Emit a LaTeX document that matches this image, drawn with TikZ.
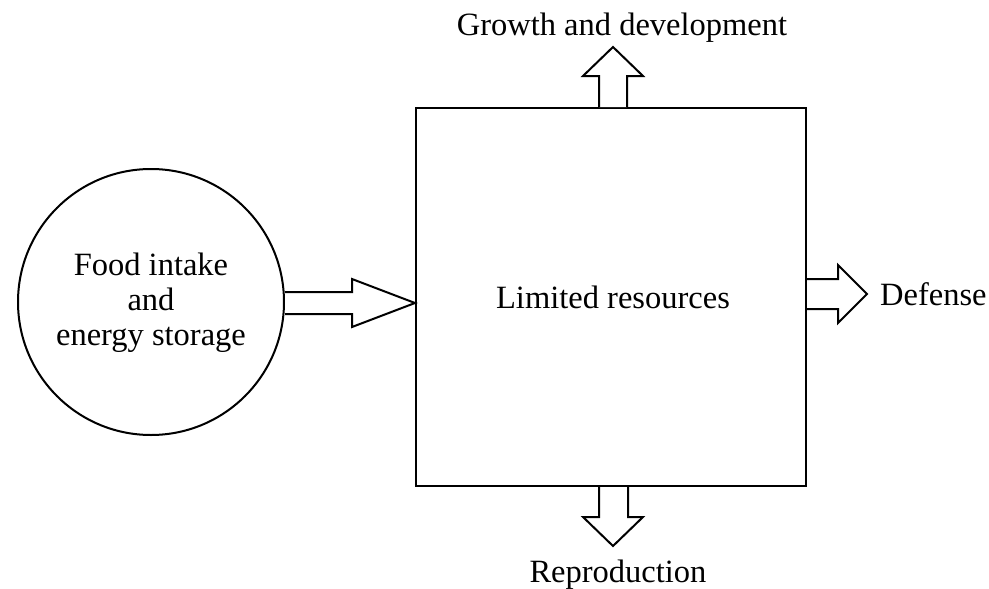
\documentclass[tikz,border=0pt]{standalone}
\usepackage{fontspec}
\setmainfont{Liberation Serif}
\begin{document}
\begin{tikzpicture}[x=1pt,y=-1pt,
  lbl/.style={font=\fontsize{32.5}{35}\selectfont, inner sep=0pt},
  shape line/.style={draw=black, line width=2pt},
  blockarrow/.style={draw=black, line width=2pt, fill=white, line join=miter}]
\useasboundingbox (0,0) rectangle (989,589);

% storage and the resource pool
\node[circle, shape line, minimum size=266pt, inner sep=0pt] (food) at (151,302) {};
\node[lbl, align=center] (foodtxt) at (151,303)
  {Food intake\\and\\energy storage};
\node[rectangle, shape line, minimum width=390pt, minimum height=378pt, inner sep=0pt] (res) at (611,297) {};
\node[lbl] (restxt) at (613,297) {Limited resources};

% outcome labels
\node[lbl] (growth) at (622,28) {Growth and development};
\node[lbl, anchor=west] (defense) at (880,294) {Defense};
\node[lbl] (repro) at (618,575) {Reproduction};

% intake arrow: circle -> square
\draw[blockarrow] (food.east |- 0,292) -- (352,292) -- (352,279) -- (res.west |- 0,303)
  -- (352,327) -- (352,314) -- (food.east |- 0,314);

% growth arrow: square top -> up
\draw[blockarrow] (599,0 |- res.north) -- (599,76) -- (583,76) -- (613,47)
  -- (643,76) -- (627,76) -- (627,0 |- res.north);

% defense arrow: square right -> right
\draw[blockarrow] (res.east |- 0,279) -- (838,279) -- (838,265) -- (867,294)
  -- (838,323) -- (838,309) -- (res.east |- 0,309);

% reproduction arrow: square bottom -> down
\draw[blockarrow] (599,0 |- res.south) -- (599,517) -- (583,517) -- (613,546)
  -- (643,517) -- (628,517) -- (628,0 |- res.south);
\end{tikzpicture}
\end{document}
